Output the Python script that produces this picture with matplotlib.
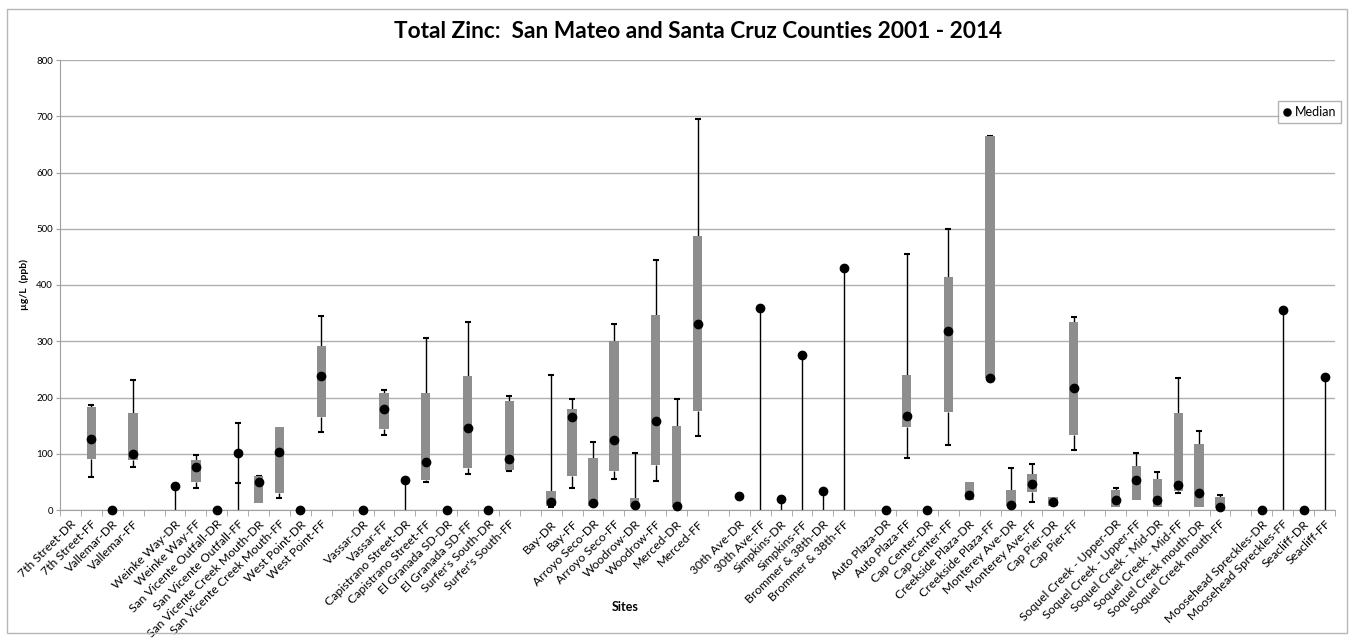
import numpy as np
from matplotlib import pyplot as plt
from matplotlib.patches import Rectangle

plt.rcParams['font.family'] = ['Lato', 'DejaVu Sans']

nan = np.nan

# site labels, blank entries are the gaps between areas
sites = ['7th Street-DR', '7th Street-FF', 'Vallemar-DR', 'Vallemar-FF', '',
         'Weinke Way-DR', 'Weinke Way-FF', 'San Vicente Outfall-DR', 'San Vicente Outfall-FF',
         'San Vicente Creek Mouth-DR', 'San Vicente Creek Mouth-FF', 'West Point-DR', 'West Point-FF', '',
         'Vassar-DR', 'Vassar-FF', 'Capistrano Street-DR', 'Capistrano Street-FF',
         'El Granada SD-DR', 'El Granada SD-FF', "Surfer's South-DR", "Surfer's South-FF", '',
         'Bay-DR', 'Bay-FF', 'Arroyo Seco-DR', 'Arroyo Seco-FF', 'Woodrow-DR', 'Woodrow-FF',
         'Merced-DR', 'Merced-FF', '',
         '30th Ave-DR', '30th Ave-FF', 'Simpkins-DR', 'Simpkins-FF', 'Brommer & 38th-DR', 'Brommer & 38th-FF', '',
         'Auto Plaza-DR', 'Auto Plaza-FF', 'Cap Center-DR', 'Cap Center-FF', 'Creekside Plaza-DR',
         'Creekside Plaza-FF', 'Monterey Ave-DR', 'Monterey Ave-FF', 'Cap Pier-DR', 'Cap Pier-FF', '',
         'Soquel Creek - Upper-DR', 'Soquel Creek - Upper-FF', 'Soquel Creek - Mid-DR', 'Soquel Creek - Mid-FF',
         'Soquel Creek mouth-DR', 'Soquel Creek mouth-FF', '',
         'Moosehead Spreckles-DR', 'Moosehead Spreckles-FF', 'Seacliff-DR', 'Seacliff-FF']

# lower whisker, 25th pct, median, 75th pct, upper whisker (ug/L)
w_low = [nan, 58, nan, 77, nan, nan, 39, nan, 47.5, nan, 22, nan, 138, nan,
         nan, 134, nan, 50, nan, 64, nan, 70, nan,
         5, 39, nan, 56, nan, 52, nan, 131, nan,
         nan, nan, nan, nan, nan, nan, nan,
         nan, 92, nan, 115, nan, nan, nan, 15, nan, 106, nan,
         nan, nan, nan, 31, nan, nan, nan,
         nan, nan, nan, nan]
q1 = [nan, 91, nan, 89, nan, nan, 50, nan, nan, 12.5, 31, nan, 166, nan,
      nan, 144, nan, 54, nan, 75, nan, 72, nan,
      7, 61, 7, 69, 5, 80, 5, 176, nan,
      nan, nan, nan, nan, nan, nan, nan,
      nan, 147, nan, 175, 17, 234, 7, 31.5, 8, 134, nan,
      6, 17, 6, 34, 6, 4, nan,
      nan, nan, nan, nan]
median = [nan, 126, 0, 100, nan, 43, 76, 0, 101, 50, 103, 0, 239, nan,
          0, 179, 54, 86, 0, 145, 0, 90, nan,
          15, 166, 12, 125, 9.5, 159, 8, 331, nan,
          25, 360, 19, 275, 34, 430, nan,
          0, 168, 0, 319, 27, 234, 9.5, 46, 14, 217, nan,
          18, 54, 18, 44.5, 30, 5, nan,
          0, 356, 0, 236]
q3 = [nan, 183, nan, 173, nan, nan, 89, nan, nan, 60.5, 148, nan, 291, nan,
      nan, 208, nan, 208, nan, 238, nan, 193, nan,
      34, 179, 93, 300, 22, 347, 150, 488, nan,
      nan, nan, nan, nan, nan, nan, nan,
      nan, 240, nan, 415, 50, 665, 35, 64, 24, 335, nan,
      36, 79, 56, 173, 117, 23, nan,
      nan, nan, nan, nan]
w_high = [nan, 186, nan, 232, nan, nan, 98, nan, 155, 60.5, nan, nan, 345, nan,
          nan, 214, nan, 306, nan, 335, nan, 202, nan,
          240, 198, 121, 330, 102, 445, 198, 695, nan,
          nan, nan, nan, nan, nan, nan, nan,
          nan, 456, nan, 499, nan, 665, 74, 81, nan, 343, nan,
          39, 102, 67, 234, 140, 27, nan,
          nan, nan, nan, nan]
# sites drawn with a line from zero up to the lowest value
stem = [0, 0, 0, 0, 0, 1, 0, 0, 1, 0, 0, 0, 0, 0,
        0, 0, 1, 0, 0, 0, 0, 0, 0,
        0, 0, 0, 0, 0, 0, 0, 0, 0,
        0, 1, 1, 1, 1, 1, 0,
        0, 0, 0, 0, 0, 0, 0, 0, 0, 0, 0,
        0, 0, 0, 0, 0, 0, 0,
        0, 1, 0, 1]

x = np.arange(len(sites))
w_low, q1, median, q3, w_high = map(np.array, (w_low, q1, median, q3, w_high))
stem = np.array(stem, dtype=bool)

fig = plt.figure(figsize=(13.54, 6.39), dpi=100)
ax = fig.add_axes([60 / 1354, 129 / 639, 1275 / 1354, 450 / 639])

# outer chart border
fig.patches.append(Rectangle((7 / 1354, 6 / 639), 1340 / 1354, 624 / 639, transform=fig.transFigure,
                             fill=False, edgecolor='#b7b7b7', linewidth=1))

# whiskers
top_start = np.where(np.isnan(q3), median, q3)
bot_start = np.where(np.isnan(q1), median, q1)
up = ~np.isnan(w_high)
ax.vlines(x[up], top_start[up], w_high[up], color='black', linewidth=1, zorder=2)
ax.plot(x[up], w_high[up], linestyle='none', marker='_', markersize=5, markeredgewidth=1.5,
        color='black', zorder=2)
dn = ~np.isnan(w_low)
ax.vlines(x[dn], w_low[dn], bot_start[dn], color='black', linewidth=1, zorder=2)
ax.plot(x[dn], w_low[dn], linestyle='none', marker='_', markersize=5, markeredgewidth=1.5,
        color='black', zorder=2)

# stems from zero
lowest = np.fmin(np.fmin(w_low, q1), median)
ax.vlines(x[stem], 0, lowest[stem], color='black', linewidth=1, zorder=2)

# boxes
ax.bar(x, q3 - q1, bottom=q1, width=0.45, color='#8e8e8e', zorder=3)

# medians
ax.plot(x, median, linestyle='none', marker='o', markersize=6, color='black',
        label='Median', zorder=4, clip_on=False)

ax.set_xlim(-0.5, len(sites) - 0.5)
ax.set_ylim(0, 800)
ax.set_yticks(np.arange(0, 801, 100))
ax.tick_params(axis='y', labelsize=7, length=3, color='#a0a0a0', pad=2)
ax.yaxis.grid(True, color='#b0b0b0', linewidth=1)
ax.set_axisbelow(True)

ax.set_xticks(x)
ax.set_xticklabels(sites, rotation=45, ha='right', va='top', rotation_mode='anchor', fontsize=8.8)
ax.tick_params(axis='x', length=0, pad=6)
ax.set_xticks(np.arange(-0.5, len(sites), 1), minor=True)
ax.tick_params(axis='x', which='minor', length=4, color='#a0a0a0')

for s in ['top', 'right']:
    ax.spines[s].set_visible(False)
for s in ['left', 'bottom']:
    ax.spines[s].set_color('#a0a0a0')

ax.set_ylabel('µg/L  (ppb)', fontsize=7.5, fontweight='bold', labelpad=5)
fig.text(625 / 1354, 1 - 607 / 639, 'Sites', fontsize=9, fontweight='bold', ha='center', va='center')
fig.text(698 / 1354, 1 - 31 / 639, 'Total Zinc:  San Mateo and Santa Cruz Counties 2001 - 2014',
         fontsize=16.3, fontweight='bold', ha='center', va='center')

leg = ax.legend(loc='upper right', bbox_to_anchor=(1341 / 1354, 1 - 101 / 639), bbox_transform=fig.transFigure,
                fontsize=9, frameon=True, fancybox=False, handlelength=0.6, handletextpad=0.3,
                markerscale=0.85, borderpad=0.4, borderaxespad=0)
leg.get_frame().set_edgecolor('#a0a0a0')
leg.get_frame().set_linewidth(1)

fig.savefig('out.png', dpi=100)
